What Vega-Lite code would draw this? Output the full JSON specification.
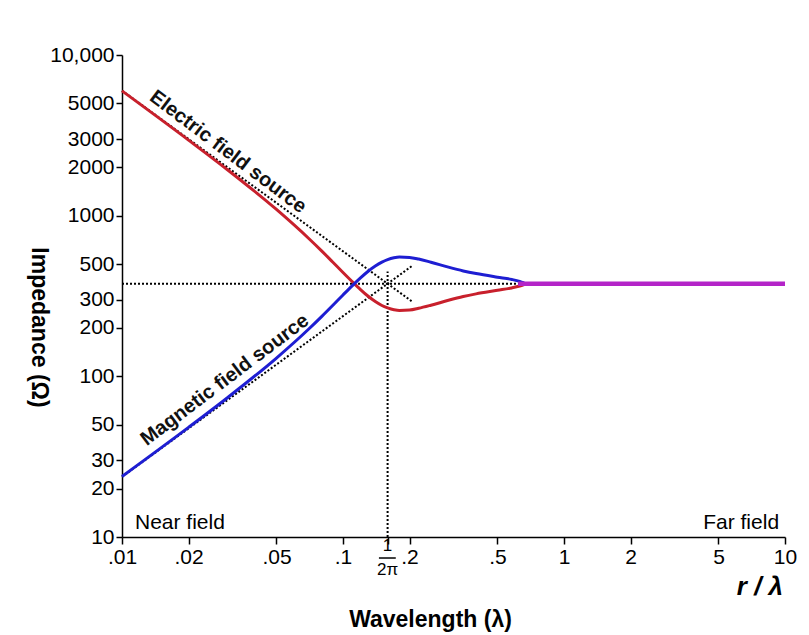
{
  "$schema": "https://vega.github.io/schema/vega-lite/v6.json",
  "width": 663,
  "height": 482,
  "autosize": {"type": "none"},
  "padding": {"left": 122, "top": 55, "right": 24, "bottom": 98},
  "background": "white",
  "config": {
    "view": {"stroke": null},
    "font": "Liberation Sans",
    "axis": {
      "grid": false,
      "domainColor": "black",
      "domainWidth": 1.5,
      "tickColor": "black",
      "tickWidth": 1.5,
      "tickSize": 7,
      "labelColor": "black",
      "labelFont": "Liberation Sans",
      "labelFontSize": 21,
      "labelFlush": false,
      "labelOverlap": false,
      "titleColor": "black",
      "titleFont": "Liberation Sans",
      "titleFontSize": 23,
      "titleFontWeight": "bold"
    }
  },
  "datasets": {
    "curves": [
      {"series": "E", "x": 0.01, "z": 5977},
      {"series": "E", "x": 0.02, "z": 2953},
      {"series": "E", "x": 0.03, "z": 1931},
      {"series": "E", "x": 0.05, "z": 1093},
      {"series": "E", "x": 0.07, "z": 721},
      {"series": "E", "x": 0.08, "z": 604},
      {"series": "E", "x": 0.09, "z": 513},
      {"series": "E", "x": 0.1, "z": 443},
      {"series": "E", "x": 0.11, "z": 389},
      {"series": "E", "x": 0.12, "z": 347},
      {"series": "E", "x": 0.13, "z": 315},
      {"series": "E", "x": 0.14, "z": 292},
      {"series": "E", "x": 0.15, "z": 276},
      {"series": "E", "x": 0.1592, "z": 267},
      {"series": "E", "x": 0.17, "z": 260},
      {"series": "E", "x": 0.18, "z": 257},
      {"series": "E", "x": 0.2, "z": 258.5},
      {"series": "E", "x": 0.22, "z": 265},
      {"series": "E", "x": 0.25, "z": 277},
      {"series": "E", "x": 0.3, "z": 297.5},
      {"series": "E", "x": 0.35, "z": 314},
      {"series": "E", "x": 0.4, "z": 326},
      {"series": "E", "x": 0.5, "z": 343},
      {"series": "E", "x": 0.58, "z": 355},
      {"series": "E", "x": 0.63, "z": 365},
      {"series": "E", "x": 0.66, "z": 373},
      {"series": "H", "x": 0.01, "z": 23.8},
      {"series": "H", "x": 0.02, "z": 48.1},
      {"series": "H", "x": 0.03, "z": 73.6},
      {"series": "H", "x": 0.05, "z": 130},
      {"series": "H", "x": 0.07, "z": 197},
      {"series": "H", "x": 0.08, "z": 235.5},
      {"series": "H", "x": 0.09, "z": 277},
      {"series": "H", "x": 0.1, "z": 321},
      {"series": "H", "x": 0.11, "z": 366},
      {"series": "H", "x": 0.12, "z": 410},
      {"series": "H", "x": 0.13, "z": 451},
      {"series": "H", "x": 0.14, "z": 486},
      {"series": "H", "x": 0.15, "z": 514},
      {"series": "H", "x": 0.1592, "z": 533},
      {"series": "H", "x": 0.17, "z": 547},
      {"series": "H", "x": 0.18, "z": 553},
      {"series": "H", "x": 0.2, "z": 550},
      {"series": "H", "x": 0.22, "z": 537},
      {"series": "H", "x": 0.25, "z": 513},
      {"series": "H", "x": 0.3, "z": 478},
      {"series": "H", "x": 0.35, "z": 453},
      {"series": "H", "x": 0.4, "z": 436},
      {"series": "H", "x": 0.5, "z": 414},
      {"series": "H", "x": 0.58, "z": 401},
      {"series": "H", "x": 0.63, "z": 390},
      {"series": "H", "x": 0.66, "z": 381}
    ],
    "guides": [
      {"g": "h", "o": 1, "x": 0.01, "z": 377},
      {"g": "h", "o": 2, "x": 10, "z": 377},
      {"g": "v", "o": 1, "x": 0.159155, "z": 10},
      {"g": "v", "o": 2, "x": 0.159155, "z": 450},
      {"g": "e", "o": 1, "x": 0.01, "z": 6000},
      {"g": "e", "o": 2, "x": 0.207, "z": 290},
      {"g": "m", "o": 1, "x": 0.01, "z": 23.7},
      {"g": "m", "o": 2, "x": 0.205, "z": 486}
    ],
    "farfield": [
      {"x": 0.62, "z": 377},
      {"x": 10, "z": 377}
    ]
  },
  "encoding": {
    "x": {
      "field": "x",
      "type": "quantitative",
      "scale": {"type": "log", "domain": [0.01, 10], "nice": false},
      "axis": {
        "values": [0.01, 0.02, 0.05, 0.1, 0.159155, 0.2, 0.5, 1, 2, 5, 10],
        "labelExpr": "datum.value > 0.15 && datum.value < 0.16 ? '' : (datum.value < 1 ? slice(format(datum.value, '~g'), 1) : format(datum.value, '~g'))",
        "labelPadding": 2,
        "title": "Wavelength (λ)",
        "titleX": 308,
        "titleY": 89,
        "titleBaseline": "alphabetic"
      }
    },
    "y": {
      "field": "z",
      "type": "quantitative",
      "scale": {"type": "log", "domain": [10, 10000], "nice": false},
      "axis": {
        "values": [10, 20, 30, 50, 100, 200, 300, 500, 1000, 2000, 3000, 5000, 10000],
        "labelExpr": "datum.value == 10000 ? '10,000' : format(datum.value, 'd')",
        "tickSize": 6,
        "labelPadding": 2,
        "title": "Impedance (Ω)",
        "titleAngle": 90,
        "titleX": -84,
        "titleY": 272,
        "titleBaseline": "middle"
      }
    }
  },
  "layer": [
    {
      "data": {"name": "guides"},
      "mark": {"type": "line", "color": "black", "strokeWidth": 2, "strokeDash": [2, 2]},
      "encoding": {"detail": {"field": "g"}, "order": {"field": "o"}}
    },
    {
      "data": {"name": "curves"},
      "mark": {"type": "line", "strokeWidth": 3, "interpolate": "monotone"},
      "encoding": {
        "color": {
          "field": "series",
          "scale": {"domain": ["E", "H"], "range": ["#c8202c", "#1e1ed2"]},
          "legend": null
        }
      }
    },
    {
      "data": {"name": "farfield"},
      "mark": {"type": "line", "strokeWidth": 4.5, "color": "#b424c8"},
      "encoding": {}
    },
    {
      "data": {"values": [{"x": 0.0302, "z": 2490, "t": "Electric field source"}]},
      "mark": {"type": "text", "angle": 37, "fontSize": 20, "fontWeight": "bold", "color": "#111"},
      "encoding": {"text": {"field": "t"}}
    },
    {
      "data": {"values": [{"x": 0.0292, "z": 95, "t": "Magnetic field source"}]},
      "mark": {"type": "text", "angle": -37, "fontSize": 20, "fontWeight": "bold", "color": "#111"},
      "encoding": {"text": {"field": "t"}}
    },
    {
      "data": {"values": [{"x": 0.01145, "z": 12.2, "t": "Near field"}]},
      "mark": {"type": "text", "align": "left", "baseline": "middle", "fontSize": 21, "color": "black"},
      "encoding": {"text": {"field": "t"}}
    },
    {
      "data": {"values": [{"x": 9.4, "z": 12.2, "t": "Far field"}]},
      "mark": {"type": "text", "align": "right", "baseline": "middle", "fontSize": 21, "color": "black"},
      "encoding": {"text": {"field": "t"}}
    },
    {
      "data": {"values": [{"x": 9.8, "z": 4.9, "t": "r / λ"}]},
      "mark": {"type": "text", "align": "right", "baseline": "middle", "fontSize": 26, "fontWeight": "bold", "fontStyle": "italic", "color": "black"},
      "encoding": {"text": {"field": "t"}}
    },
    {
      "data": {"values": [{"x": 0.159155, "z": 8.75, "t": "1"}]},
      "mark": {"type": "text", "align": "center", "baseline": "middle", "fontSize": 17, "color": "black"},
      "encoding": {"text": {"field": "t"}}
    },
    {
      "data": {"values": [{"x": 0.159155, "z": 6.25, "t": "2π"}]},
      "mark": {"type": "text", "align": "center", "baseline": "middle", "fontSize": 17, "color": "black"},
      "encoding": {"text": {"field": "t"}}
    },
    {
      "data": {"values": [{"x": 0.1454, "x2": 0.1733, "z": 7.4}]},
      "mark": {"type": "rule", "color": "black", "strokeWidth": 1.5},
      "encoding": {"x2": {"field": "x2"}}
    }
  ]
}
